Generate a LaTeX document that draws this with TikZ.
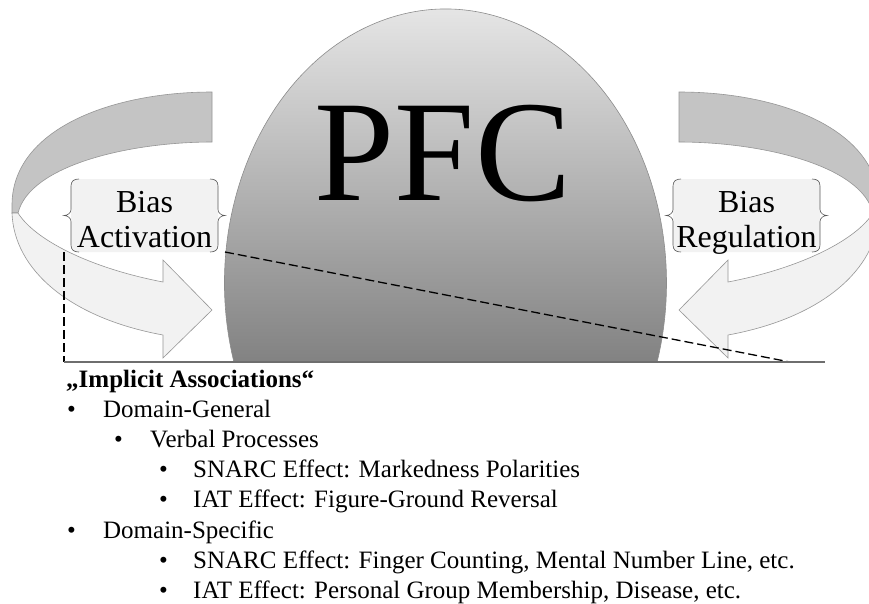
\documentclass[tikz,border=0pt]{standalone}
\usepackage{fontspec}
\setmainfont{Liberation Serif}
\definecolor{bandback}{RGB}{196,196,196}
\definecolor{bandfront}{RGB}{242,242,242}
\definecolor{bandedge}{RGB}{150,150,150}
\definecolor{boxfill}{RGB}{242,242,242}
\definecolor{braceline}{RGB}{90,90,90}
\definecolor{domeTop}{RGB}{238,238,238}
\definecolor{domeBottom}{RGB}{130,130,130}
\definecolor{domeEdge}{RGB}{140,140,140}
\definecolor{groundline}{RGB}{110,110,110}
\begin{document}
\begin{tikzpicture}[x=1pt,y=-1pt,
  backband/.style={fill=bandback, draw=bandedge, line width=0.6pt},
  frontband/.style={fill=bandfront, draw=bandedge, line width=0.6pt},
  biasbox/.style={fill=boxfill, rounded corners=6pt, minimum width=147pt,
    minimum height=73pt, inner sep=0pt, outer xsep=7pt, outer ysep=0pt},
  bracestroke/.style={draw=braceline, line width=0.6pt},
  biastext/.style={font=\fontsize{32}{35}\selectfont, align=center, inner sep=0pt},
  conn/.style={dash pattern=on 9pt off 4pt, line width=1.3pt},
  ground/.style={draw=groundline, line width=1.4pt},
  item/.style={font=\fontsize{25}{30}\selectfont, inner sep=0pt, anchor=base west},
  heading/.style={font=\bfseries\fontsize{25}{30}\selectfont, inner sep=0pt, anchor=base west}
]
\clip (0,0) rectangle (869,603);
\fill[white] (0,0) rectangle (869,603);

% curved arrows: back ribbon first, then the front ribbon with its head
\foreach \mirror in {1,-1}{
  \begin{scope}[shift={({445.5-445.5*\mirror},0)}, xscale=\mirror]
    \path[backband] (212,92) .. controls (110,92) and (12,130) .. (12,205)
      -- (12,213) -- (18,213) .. controls (30,165) and (130,142) .. (212,142) -- cycle;
    \path[frontband] (18,213) .. controls (35,240) and (90,268) .. (163,282)
      -- (163,260) -- (212,310) -- (163,358) -- (163,335)
      .. controls (70,318) and (14,270) .. (12,213) -- cycle;
  \end{scope}
}

% prefrontal dome with vertical gradient
\shadedraw[top color=domeTop, bottom color=domeBottom, draw=domeEdge, line width=0.6pt]
  (233.9,362) arc[start angle=163.24, end angle=376.76, x radius=221, y radius=274] -- cycle;
\node[font=\fontsize{144}{144}\selectfont, inner sep=0pt, anchor=base] (pfc) at (443,200) {PFC};

% label boxes with brace-shaped sides
\node[biasbox] (act) at (144.5,215.5) {};
\node[biasbox] (reg) at (746.5,215.5) {};
\foreach \b in {act,reg}{
  \begin{scope}[shift={(\b.center)}]
    \foreach \s in {1,-1}{
      \begin{scope}[xscale=\s]
        \path[bracestroke] (-65.5,-36.5) .. controls (-70.5,-36.5) and (-73.5,-34.5) .. (-73.5,-29.5)
          -- (-73.5,-6) .. controls (-73.5,-2.5) and (-77,0) .. (-80.5,0)
          .. controls (-77,0) and (-73.5,2.5) .. (-73.5,6)
          -- (-73.5,29.5) .. controls (-73.5,34.5) and (-70.5,36.5) .. (-65.5,36.5);
      \end{scope}
    }
  \end{scope}
}
\node[biastext] (actText) at ([yshift=-4pt]act.center) {Bias\\\smash{Activation}};
\node[biastext] (regText) at ([yshift=-4pt]reg.center) {Bias\\\smash{Regulation}};

% ground line and dashed connectors
\coordinate (lineL) at (64,362);
\coordinate (lineR) at (825,362);
\coordinate (lineEnd) at (790,362);
\draw[conn] (act.south west) -- (lineL);
\draw[conn] (act.south east) -- (lineEnd);
\draw[ground] (lineL) -- (lineR);

% list of associations
\node[heading] (hd) at (66,387) {„Implicit Associations“};
\node[item] (i1) at (67,417.2) {\makebox[36pt][l]{•}Domain-General};
\node[item] (i2) at (114,447.4) {\makebox[36pt][l]{•}Verbal Processes};
\node[item] (i3) at (159,477.6) {\makebox[34pt][l]{•}SNARC Effect: Markedness Polarities};
\node[item] (i4) at (159,507.8) {\makebox[34pt][l]{•}IAT Effect: Figure-Ground Reversal};
\node[item] (i5) at (67,538) {\makebox[36pt][l]{•}Domain-Specific};
\node[item] (i6) at (159,568.2) {\makebox[34pt][l]{•}SNARC Effect: Finger Counting, Mental Number Line, etc.};
\node[item] (i7) at (159,598.4) {\makebox[34pt][l]{•}IAT Effect: Personal Group Membership, Disease, etc.};
\end{tikzpicture}
\end{document}
